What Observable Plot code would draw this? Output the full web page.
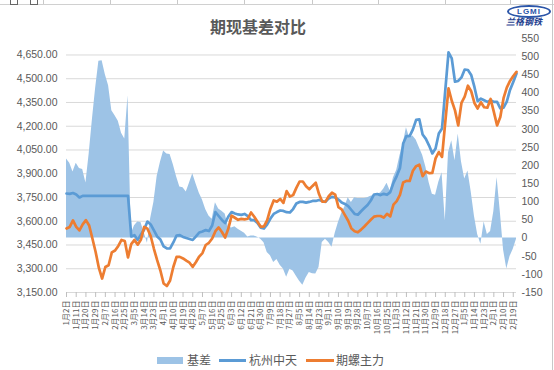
<!DOCTYPE html>
<html>
<head>
<meta charset="utf-8">
<script src="https://cdn.jsdelivr.net/npm/d3@7"></script>
<script src="https://cdn.jsdelivr.net/npm/@observablehq/plot@0.6"></script>
<style>
  html, body { margin: 0; padding: 0; background: #fff; }
  #wrap { position: relative; width: 554px; height: 370px; overflow: hidden; background: #fff; }
  #chart { position: absolute; left: 0; top: 0; }
  #title { position: absolute; left: 158px; top: 15px; width: 200px; text-align: center;
           font-family: "Noto Sans CJK SC", sans-serif; font-weight: 700; font-size: 16px; color: #595959; line-height: 22px; }
  .leg { position: absolute; font-family: "Noto Sans CJK SC", sans-serif; font-size: 12px; color: #595959; line-height: 14px; white-space: nowrap; }
  .sw { position: absolute; }
  .cell { position: absolute; top: 0; width: 1px; height: 4px; background: #c9c9c9; }
</style>
</head>
<body>
<div id="wrap">
  <div id="chart"></div>
  <div id="title"></div>
  <div id="logo"></div>
  <div id="legend"></div>
  <div id="frame"></div>
</div>
<script>
// ---- data ----
const chartTitle = "期现基差对比";
const seriesNames = ["基差", "杭州中天", "期螺主力"];

const dates = [
"2020-01-02","2020-01-05","2020-01-08","2020-01-11","2020-01-14","2020-01-17","2020-01-20","2020-01-23","2020-01-26","2020-01-29",
"2020-02-01","2020-02-04","2020-02-07","2020-02-10","2020-02-13","2020-02-16","2020-02-19","2020-02-22","2020-02-25","2020-02-28",
"2020-03-02","2020-03-05","2020-03-08","2020-03-11","2020-03-14","2020-03-17","2020-03-20","2020-03-23","2020-03-26","2020-03-29",
"2020-04-01","2020-04-04","2020-04-07","2020-04-10","2020-04-13","2020-04-16","2020-04-19","2020-04-22","2020-04-25","2020-04-28",
"2020-05-01","2020-05-04","2020-05-07","2020-05-10","2020-05-13","2020-05-16","2020-05-19","2020-05-22","2020-05-25","2020-05-28",
"2020-05-31","2020-06-03","2020-06-06","2020-06-09","2020-06-12","2020-06-15","2020-06-18","2020-06-21","2020-06-24","2020-06-27",
"2020-06-30","2020-07-03","2020-07-06","2020-07-09","2020-07-12","2020-07-15","2020-07-18","2020-07-21","2020-07-24","2020-07-27",
"2020-07-30","2020-08-02","2020-08-05","2020-08-08","2020-08-11","2020-08-14","2020-08-17","2020-08-20","2020-08-23","2020-08-26",
"2020-08-29","2020-09-01","2020-09-04","2020-09-07","2020-09-10","2020-09-13","2020-09-16","2020-09-19","2020-09-22","2020-09-25",
"2020-09-28","2020-10-01","2020-10-04","2020-10-07","2020-10-10","2020-10-13","2020-10-16","2020-10-19","2020-10-22","2020-10-25",
"2020-10-28","2020-10-31","2020-11-03","2020-11-06","2020-11-09","2020-11-12","2020-11-15","2020-11-18","2020-11-21","2020-11-24",
"2020-11-27","2020-11-30","2020-12-03","2020-12-06","2020-12-09","2020-12-12","2020-12-15","2020-12-18","2020-12-21","2020-12-24",
"2020-12-27","2020-12-30","2021-01-02","2021-01-05","2021-01-08","2021-01-11","2021-01-14","2021-01-17","2021-01-20","2021-01-23",
"2021-01-26","2021-01-29","2021-02-01","2021-02-04","2021-02-07","2021-02-10","2021-02-13","2021-02-16","2021-02-19","2021-02-22"
];

// 杭州中天 (left axis)
const hzSpot = [
3775,3773,3778,3769,3750,3760,3760,3760,3760,3760,
3760,3760,3760,3760,3760,3760,3760,3760,3760,3760,
3504,3512,3482,3516,3548,3598,3580,3542,3504,3485,
3441,3428,3428,3466,3510,3512,3501,3494,3488,3482,
3504,3529,3535,3544,3538,3573,3658,3633,3608,3589,
3630,3658,3649,3643,3640,3646,3633,3607,3607,3589,
3559,3554,3580,3617,3646,3658,3668,3665,3657,3655,
3677,3712,3722,3722,3718,3722,3728,3728,3734,3728,
3722,3744,3754,3750,3737,3718,3709,3696,3671,3646,
3641,3663,3684,3703,3731,3769,3772,3765,3773,3767,
3784,3842,3885,3936,4091,4138,4138,4180,4240,4243,
4148,4120,4078,4028,4059,4154,4186,4426,4666,4628,
4481,4486,4508,4558,4555,4524,4448,4358,4374,4364,
4354,4365,4354,4354,4313,4317,4356,4429,4480,4533
];

// 期螺主力 (left axis)
const rebarFut = [
3554,3564,3605,3565,3542,3580,3607,3573,3491,3406,
3305,3238,3311,3322,3403,3415,3444,3482,3475,3371,
3456,3482,3452,3485,3564,3553,3507,3426,3354,3289,
3207,3191,3226,3311,3375,3375,3365,3351,3338,3312,
3343,3377,3399,3450,3464,3491,3537,3561,3532,3497,
3554,3635,3622,3609,3615,3612,3616,3655,3628,3597,
3565,3567,3607,3679,3731,3724,3741,3716,3790,3756,
3765,3811,3851,3851,3821,3802,3823,3843,3772,3723,
3724,3758,3780,3768,3689,3675,3639,3603,3554,3537,
3530,3547,3567,3588,3609,3629,3633,3633,3623,3646,
3631,3705,3727,3766,3845,3855,3854,3919,3948,3957,
3885,3914,3904,3905,3997,4037,4006,4226,4439,4361,
4300,4205,4347,4387,4456,4421,4347,4312,4351,4320,
4317,4372,4291,4205,4258,4377,4444,4486,4517,4543
];

// 基差 (right axis)
const basis = [
218,206,182,206,192,189,152,232,326,413,
487,489,450,420,351,337,322,289,273,392,
11,34,44,43,15,-14,54,99,170,208,
240,232,230,202,169,141,139,127,152,177,
150,124,105,79,61,52,97,80,74,66,
31,28,31,24,19,13,3,6,6,2,
-3,-13,-40,-49,-67,-59,-75,-85,-108,-86,
-91,-105,-119,-130,-110,-95,-98,-99,-81,-12,
-3,-12,-25,13,43,68,86,111,98,111,
109,109,109,111,115,117,121,124,135,151,
130,166,187,227,259,304,276,281,270,249,
228,196,153,121,118,154,180,47,235,268,
213,287,210,163,185,128,61,10,-17,44,
10,18,73,167,72,-33,-85,-51,-31,-3
];

const leftTicks = [3150,3300,3450,3600,3750,3900,4050,4200,4350,4500,4650];
const rightTicks = [-150,-100,-50,0,50,100,150,200,250,300,350,400,450,500,550];
const tickDates = [
"2020-01-02","2020-01-11","2020-01-20","2020-01-29","2020-02-07","2020-02-16","2020-02-25","2020-03-05","2020-03-14","2020-03-23",
"2020-04-01","2020-04-10","2020-04-19","2020-04-28","2020-05-07","2020-05-16","2020-05-25","2020-06-03","2020-06-12","2020-06-21",
"2020-06-30","2020-07-09","2020-07-18","2020-07-27","2020-08-05","2020-08-14","2020-08-23","2020-09-01","2020-09-10","2020-09-19",
"2020-09-28","2020-10-07","2020-10-16","2020-10-25","2020-11-03","2020-11-12","2020-11-21","2020-11-30","2020-12-09","2020-12-18",
"2020-12-27","2021-01-05","2021-01-14","2021-01-23","2021-02-01","2021-02-10","2021-02-19"
];
const leftDomain = [3150, 4754];
const rightDomain = [-150, 550];
const xDomain = ["2020-01-02", "2021-02-22"];

// ---- build ----
const parse = d3.utcParse("%Y-%m-%d");
const toLeft = v => leftDomain[0] + (v - rightDomain[0]) * (leftDomain[1] - leftDomain[0]) / (rightDomain[1] - rightDomain[0]);
const fromLeft = u => rightDomain[0] + (u - leftDomain[0]) * (rightDomain[1] - rightDomain[0]) / (leftDomain[1] - leftDomain[0]);
const rows = dates.map((d, i) => ({date: parse(d), spot: hzSpot[i], fut: rebarFut[i], basis: basis[i]}));

const colors = {area: "#9dc3e6", spot: "#5b9bd5", fut: "#ed7d31"};

const chart = Plot.plot({
  width: 554,
  height: 370,
  marginLeft: 66,
  marginRight: 38,
  marginTop: 38,
  marginBottom: 78,
  style: {fontFamily: "'Liberation Sans', sans-serif", fontSize: "10.5px", color: "#595959", background: "transparent"},
  x: {type: "utc", domain: xDomain.map(parse), label: null},
  y: {domain: leftDomain, label: null},
  marks: [
    Plot.gridY(leftTicks, {stroke: "#d9d9d9", strokeOpacity: 1}),
    Plot.areaY(rows, {x: "date", y1: () => toLeft(0), y2: d => toLeft(d.basis), fill: colors.area, curve: "linear"}),
    Plot.ruleY([leftDomain[0]], {stroke: "#d9d9d9"}),
    Plot.lineY(rows, {x: "date", y: "spot", stroke: colors.spot, strokeWidth: 2.7, curve: "linear"}),
    Plot.lineY(rows, {x: "date", y: "fut", stroke: colors.fut, strokeWidth: 2.7, curve: "linear"}),
    Plot.axisY(leftTicks, {anchor: "left", tickSize: 0, tickPadding: 9, label: null, tickFormat: d3.format(",.2f")}),
    Plot.axisY(rightTicks.map(toLeft), {anchor: "right", tickSize: 0, tickPadding: 5, label: null,
      tickFormat: d => String(Math.round(fromLeft(d)))}),
    Plot.axisX(tickDates.map(parse), {anchor: "bottom", tickSize: 5, stroke: "#bfbfbf", tickRotate: -90, tickPadding: 3,
      fontSize: 8, fontFamily: "'Noto Sans CJK SC', sans-serif", label: null,
      tickFormat: d => `${d.getUTCMonth() + 1}月${d.getUTCDate()}日`})
  ]
});
document.getElementById("chart").appendChild(chart);

document.getElementById("title").textContent = chartTitle;

// legend
const legend = document.getElementById("legend");
const legendItems = [
  {kind: "rect", color: colors.area, sx: 157, sw: 26, tx: 187},
  {kind: "line", color: colors.spot, sx: 219, sw: 27, tx: 249},
  {kind: "line", color: colors.fut, sx: 306, sw: 28, tx: 336}
];
legendItems.forEach((it, i) => {
  const s = document.createElement("div");
  s.className = "sw";
  s.style.left = it.sx + "px";
  s.style.width = it.sw + "px";
  s.style.background = it.color;
  if (it.kind === "rect") { s.style.top = "357px"; s.style.height = "7px"; }
  else { s.style.top = "359px"; s.style.height = "3px"; }
  legend.appendChild(s);
  const t = document.createElement("div");
  t.className = "leg";
  t.style.left = it.tx + "px";
  t.style.top = "353px";
  t.textContent = seriesNames[i];
  legend.appendChild(t);
});

// logo (top right)
const logo = document.getElementById("logo");
logo.innerHTML =
  '<div style="position:absolute;left:507px;top:5px;width:40px;height:9px;border:2px solid #2b55a8;border-radius:50%;' +
  'font:bold 8px/9px \'Liberation Sans\',sans-serif;color:#2b55a8;text-align:center;letter-spacing:1px">LGMI</div>' +
  '<div style="position:absolute;left:506px;top:17px;font:italic bold 9px/10px \'Noto Sans CJK SC\',sans-serif;color:#1f3f8f;white-space:nowrap">兰格钢铁</div>';

// spreadsheet remnants around the chart
const frame = document.getElementById("frame");
let html = '<div style="position:absolute;left:0;top:4px;width:554px;height:1px;background:#d0d0d0"></div>';
[43, 110, 177, 244, 312, 378, 445, 510].forEach(x => { html += `<div class="cell" style="left:${x}px"></div>`; });
html += '<div style="position:absolute;left:10px;top:0;width:6px;height:4px;border:1px solid #666;border-top:none"></div>';
html += '<div style="position:absolute;left:30px;top:0;width:6px;height:4px;border:1px solid #666;border-top:none"></div>';
html += '<div style="position:absolute;left:552px;top:0;width:1px;height:370px;background:#c8c8c8"></div>';
frame.innerHTML = html;
</script>
</body>
</html>
